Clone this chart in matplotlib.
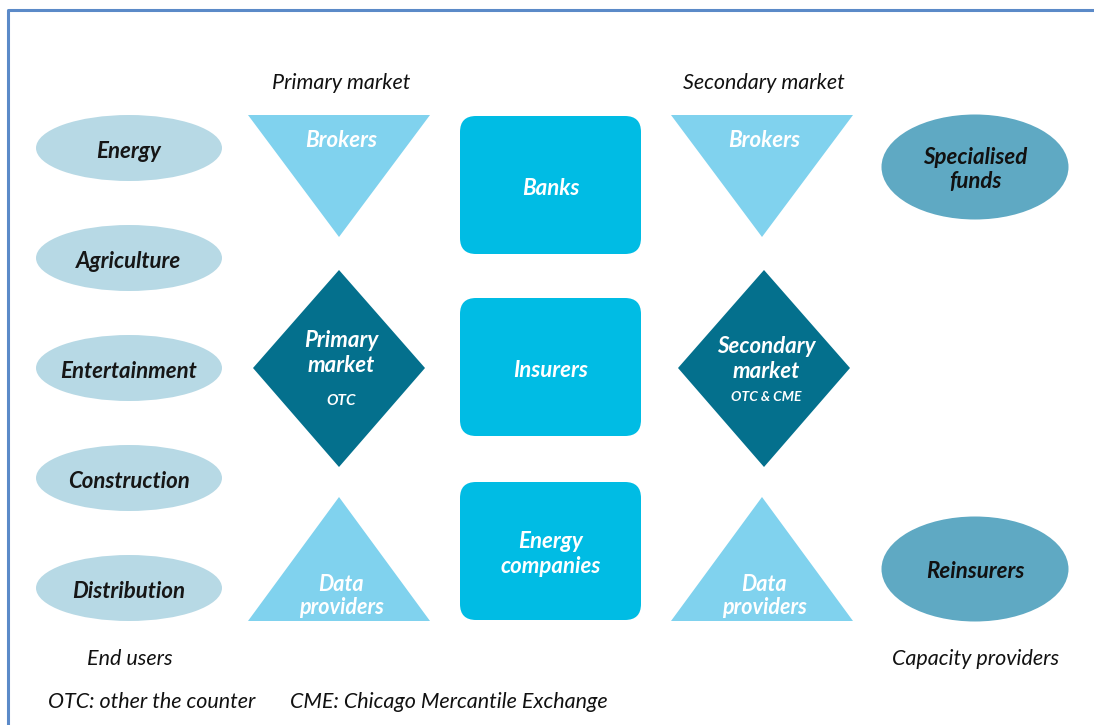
import matplotlib.pyplot as plt
from matplotlib.patches import Ellipse, Polygon, FancyBboxPatch

# labels
end_users = ["Energy", "Agriculture", "Entertainment", "Construction", "Distribution"]
middle_boxes = ["Banks", "Insurers", "Energy\ncompanies"]
capacity = ["Specialised\nfunds", "Reinsurers"]
market_titles = ["Primary market", "Secondary market"]
diamond_main = ["Primary\nmarket", "Secondary\nmarket"]
diamond_sub = ["OTC", "OTC & CME"]
footnotes = ["OTC: other the counter", "CME: Chicago Mercantile Exchange"]

# colours
c_user = "#b7d9e5"
c_tri = "#80d2ee"
c_diam = "#04708d"
c_box = "#00bce4"
c_cap = "#5fa9c3"
c_border = "#5b8ac8"

plt.rcParams["font.family"] = ["Lato", "DejaVu Sans"]

fig = plt.figure(figsize=(10.94, 7.25), dpi=100)
ax = fig.add_axes([0, 0, 1, 1])
ax.set_xlim(0, 1094)
ax.set_ylim(725, 0)
ax.axis("off")


def label(x, y, s, size=16, color="white", gap=24, bold=True, ha="center"):
    # multi-line labels: one text per line, fixed pixel gap
    lines = s.split("\n")
    y0 = y - gap * (len(lines) - 1) / 2
    for j, ln in enumerate(lines):
        ax.text(x, y0 + gap * j, ln, ha=ha, va="center", style="italic",
                fontweight="bold" if bold else "normal", fontsize=size,
                color=color)


# frame
ax.plot([8, 8, 1094], [725, 10, 10], color=c_border, lw=2.2, solid_capstyle="butt")

# end users ellipses
for i, name in enumerate(end_users):
    cy = 148 + 110 * i
    ax.add_patch(Ellipse((129, cy), 186, 66, color=c_user, lw=0))
    label(129, cy + 3, name, color="#161616")

# market columns
for k, cx in enumerate([339, 762]):
    label(cx + 2, 83, market_titles[k], size=15.5, color="#111111", bold=False)
    # brokers (inverted triangle)
    ax.add_patch(Polygon([[cx - 91, 115], [cx + 91, 115], [cx, 237]],
                         closed=True, color=c_tri, lw=0))
    label(cx + 2, 140, "Brokers")
    # diamond
    dx = cx + (0 if k == 0 else 2)
    ax.add_patch(Polygon([[dx, 270], [dx + 86, 368], [dx, 467], [dx - 86, 368]],
                         closed=True, color=c_diam, lw=0))
    label(dx + 2, 353 if k == 0 else 359, diamond_main[k], gap=25)
    label(dx + 2, 401 if k == 0 else 397, diamond_sub[k],
          size=11 if k == 0 else 10)
    # data providers (triangle)
    ax.add_patch(Polygon([[cx, 497], [cx + 91, 621], [cx - 91, 621]],
                         closed=True, color=c_tri, lw=0))
    label(cx + 2, 596, "Data\nproviders", size=15.5, gap=23)

# middle boxes
for i, name in enumerate(middle_boxes):
    top = [116, 298, 482][i]
    ax.add_patch(FancyBboxPatch((460 + 16, top + 16), 181 - 32, 138 - 32,
                                boxstyle="round,pad=16", color=c_box, lw=0))
    label(551, top + 72, name, gap=25)

# capacity providers
for i, name in enumerate(capacity):
    cy = [167, 569][i]
    ax.add_patch(Ellipse((975, cy), 187, 105, color=c_cap, lw=0))
    label(975, cy + 2, name, color="#111111")

# bottom labels
label(130, 659, "End users", size=15.5, color="#111111", bold=False)
label(976, 659, "Capacity providers", size=15.5, color="#111111", bold=False)
label(48, 702, footnotes[0], size=15.5, color="#111111", bold=False, ha="left")
label(290, 702, footnotes[1], size=15.5, color="#111111", bold=False, ha="left")

fig.savefig("out.png", dpi=100)
